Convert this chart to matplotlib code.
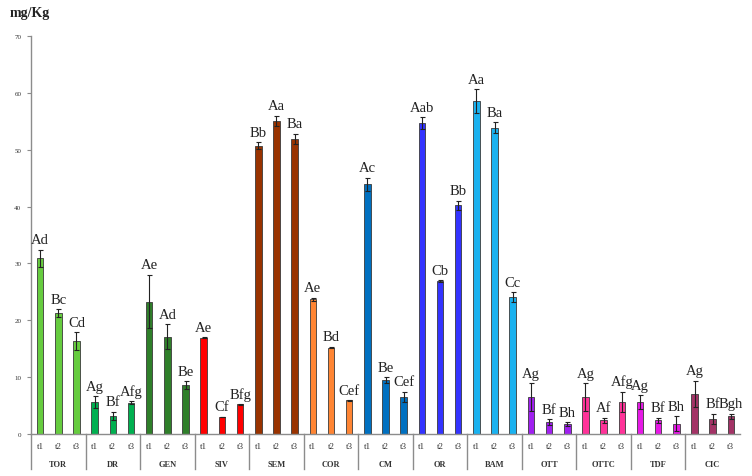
import matplotlib
matplotlib.use("Agg")
import matplotlib.pyplot as plt
import matplotlib.transforms as mtransforms

groups = ["TOR", "DR", "GEN", "SIV", "SEM", "COR", "CM", "OR", "BAM", "OTT", "OTTC", "TDF", "CIC"]
times = ["t1", "t2", "t3"]
colors = ["#66CC3F", "#00B050", "#2F7F2A", "#FF0000", "#993300", "#FF8533", "#0070C0",
          "#3333FF", "#1AB2F0", "#A020F0", "#FF3399", "#E619E6", "#A33366"]

means = [
    [30.9, 21.2, 16.3],
    [5.6, 3.2, 5.5],
    [23.3, 17.1, 8.6],
    [16.9, 3.0, 5.2],
    [50.7, 55.1, 51.9],
    [23.7, 15.2, 5.9],
    [43.9, 9.5, 6.5],
    [54.7, 26.9, 40.2],
    [58.5, 53.9, 24.1],
    [6.5, 2.1, 1.7],
    [6.5, 2.4, 5.6],
    [5.6, 2.4, 1.8],
    [7.1, 2.7, 3.1],
]
errors = [
    [1.5, 0.7, 1.6],
    [1.0, 0.7, 0.3],
    [4.7, 2.2, 0.7],
    [0.1, 0.05, 0.05],
    [0.6, 0.9, 0.9],
    [0.3, 0.15, 0.05],
    [1.2, 0.5, 0.9],
    [1.0, 0.1, 0.8],
    [2.1, 0.9, 0.8],
    [2.4, 0.5, 0.35],
    [2.4, 0.5, 1.8],
    [1.2, 0.5, 1.3],
    [2.3, 0.9, 0.45],
]
letters = [
    ["Ad", "Bc", "Cd"],
    ["Ag", "Bf", "Afg"],
    ["Ae", "Ad", "Be"],
    ["Ae", "Cf", "Bfg"],
    ["Bb", "Aa", "Ba"],
    ["Ae", "Bd", "Cef"],
    ["Ac", "Be", "Cef"],
    ["Aab", "Cb", "Bb"],
    ["Aa", "Ba", "Cc"],
    ["Ag", "Bf", "Bh"],
    ["Ag", "Af", "Afg"],
    ["Ag", "Bf", "Bh"],
    ["Ag", "Bf", "Bgh"],
]
yticks = [0, 10, 20, 30, 40, 50, 60, 70]

serif = ["Liberation Serif", "DejaVu Serif"]
plt.rcParams["font.family"] = serif

fig = plt.figure(figsize=(7.52, 4.77), dpi=100)
ax = fig.add_axes([31 / 752, 42 / 477, (740 - 31) / 752, (435 - 37) / 477])

gray = "#8c8c8c"
trans = mtransforms.blended_transform_factory(ax.transData, ax.transAxes)

for g, name in enumerate(groups):
    for j in range(3):
        x = g * 3 + j + 0.5
        m = means[g][j]
        e = errors[g][j]
        ax.bar(x, m, width=0.36, color=colors[g], edgecolor="#3a3a3a", linewidth=0.6, zorder=2)
        ax.errorbar(x, m, yerr=e, fmt="none", ecolor="#222222", elinewidth=0.8,
                    capsize=1.8, capthick=0.8, zorder=3)
        ax.annotate(letters[g][j], (x, m + e), xytext=(0, 2.5), textcoords="offset points",
                    ha="center", va="bottom", fontsize=10.5, color="#222222")
        ax.text(x, -0.030, times[j], transform=trans, ha="center", va="center",
                fontsize=6.5, color="#333333")
    ax.text(g * 3 + 1.5, -0.076, name, transform=trans, ha="center", va="center",
            fontsize=6, fontweight="bold", color="#333333")
    if g > 0:
        ax.plot([g * 3, g * 3], [0, -0.088], transform=trans, color=gray, lw=1.0, clip_on=False)

ax.plot([0, 0], [0, -0.088], transform=trans, color=gray, lw=1.0, clip_on=False)

ax.set_xlim(0, 39)
ax.set_ylim(0, 70)
ax.set_yticks(yticks)
ax.set_xticks([])
for s in ["top", "right"]:
    ax.spines[s].set_visible(False)
ax.spines["left"].set_color(gray)
ax.spines["bottom"].set_color(gray)
ax.spines["left"].set_linewidth(1.0)
ax.spines["bottom"].set_linewidth(1.0)
ax.tick_params(axis="y", length=3, width=0.8, color=gray, labelsize=5, pad=4, labelcolor="#333333")

fig.text(10 / 752, 1 - 14 / 477, "mg/Kg", fontsize=10, fontweight="bold", ha="left", va="center",
         color="#222222")

fig.savefig("out.png", dpi=100)
